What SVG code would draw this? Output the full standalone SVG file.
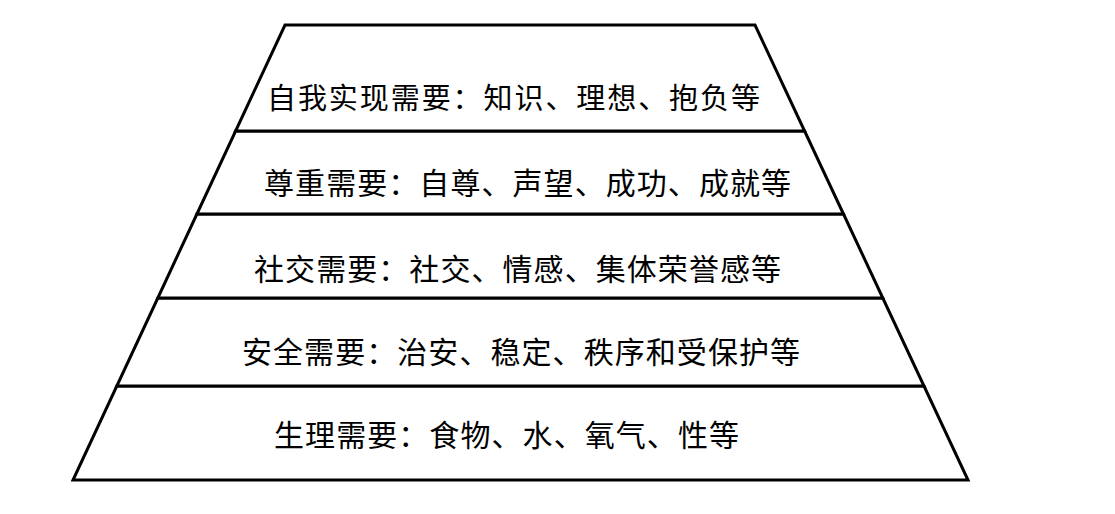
<svg xmlns="http://www.w3.org/2000/svg" width="1115" height="514" viewBox="0 0 1115 514">
<style>
.layer{fill:#fff;stroke:#000;stroke-width:3;stroke-linejoin:miter}
.lbl{font-family:"Noto Sans CJK SC","Noto Sans CJK JP",sans-serif;fill:#000;dominant-baseline:central;font-size:30px}
</style>
<rect width="1115" height="514" fill="#fff"/>
<g id="layer5">
<polygon class="layer" points="116.8,386 924,386 968,480 73,480"/>
<text class="lbl" x="274" y="433" textLength="465" lengthAdjust="spacing">生理需要：食物、水、氧气、性等</text>
</g>
<g id="layer4">
<polygon class="layer" points="157.8,298 882.8,298 924,386 116.8,386"/>
<text class="lbl" x="242" y="350" textLength="558" lengthAdjust="spacing">安全需要：治安、稳定、秩序和受保护等</text>
</g>
<g id="layer3">
<polygon class="layer" points="196.9,214 843.5,214 882.8,298 157.8,298"/>
<text class="lbl" x="254" y="267" textLength="527" lengthAdjust="spacing">社交需要：社交、情感、集体荣誉感等</text>
</g>
<g id="layer2">
<polygon class="layer" points="235.6,131 804.6,131 843.5,214 196.9,214"/>
<text class="lbl" x="264" y="181" textLength="527" lengthAdjust="spacing">尊重需要：自尊、声望、成功、成就等</text>
</g>
<g id="layer1">
<polygon class="layer" points="285,25 755,25 804.6,131 235.6,131"/>
<text class="lbl" x="267" y="96" textLength="493" lengthAdjust="spacing" style="font-size:29px">自我实现需要：知识、理想、抱负等</text>
</g>
<g id="connectors"/>
</svg>
